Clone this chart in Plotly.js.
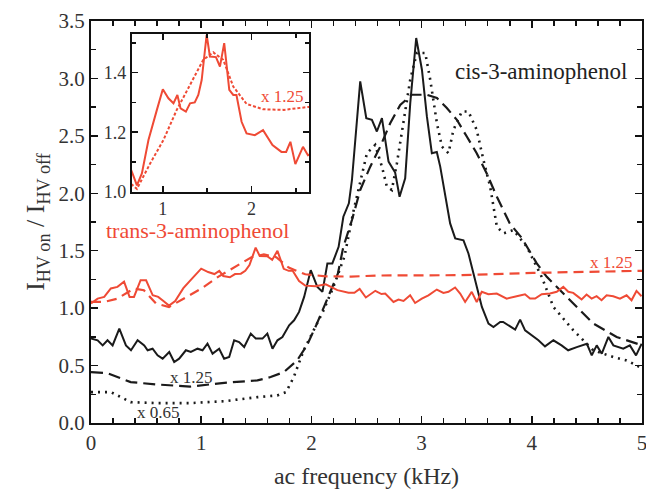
<!DOCTYPE html>
<html>
<head>
<meta charset="utf-8">
<script src="https://cdn.plot.ly/plotly-3.0.1.min.js"></script>
<style>html,body{margin:0;padding:0;background:#fff;}#chart{width:646px;height:489px;}</style>
</head>
<body>
<div id="chart"></div>
<script>
// cis-3-aminophenol, solid
const cisSolidX = [0,0.06,0.106,0.15,0.196,0.257,0.317,0.363,0.423,0.483,0.514,0.559,0.604,0.65,0.71,0.755,0.80,0.861,0.906,0.967,1.012,1.057,1.103,1.163,1.208,1.254,1.299,1.344,1.39,1.45,1.495,1.556,1.60,1.647,1.692,1.737,1.798,1.843,1.888,1.934,1.994,2.054,2.10,2.145,2.19,2.247,2.29,2.34,2.368,2.443,2.498,2.549,2.594,2.64,2.70,2.745,2.76,2.80,2.851,2.897,2.951,3.003,3.048,3.093,3.138,3.169,3.214,3.259,3.305,3.38,3.425,3.48,3.547,3.607,3.652,3.713,3.74,3.849,3.894,3.939,4.0,4.06,4.12,4.196,4.27,4.33,4.408,4.50,4.544,4.589,4.635,4.695,4.74,4.785,4.83,4.89,4.946,4.997];
const cisSolidY = [0.735,0.72,0.676,0.72,0.676,0.822,0.676,0.633,0.72,0.676,0.633,0.647,0.589,0.56,0.618,0.531,0.56,0.633,0.618,0.647,0.633,0.691,0.604,0.647,0.56,0.575,0.72,0.705,0.662,0.778,0.735,0.735,0.778,0.647,0.72,0.749,0.851,0.894,0.967,1.098,1.331,1.185,1.142,1.389,1.389,1.534,1.796,1.913,2.116,2.974,2.654,2.64,2.538,2.654,2.276,2.203,2.18,1.97,2.131,2.785,3.352,3.076,2.669,2.349,2.36,2.232,1.97,1.738,1.607,1.59,1.476,1.26,1.01,0.866,0.836,0.88,0.88,0.813,0.90,0.807,0.763,0.72,0.667,0.72,0.676,0.633,0.661,0.69,0.589,0.676,0.603,0.749,0.676,0.66,0.647,0.676,0.589,0.69];

// cis-3-aminophenol x1.25, dashed
const cisDashX = [0,0.15,0.36,0.6,0.9,1.21,1.51,1.63,1.75,1.87,1.96,2.05,2.14,2.24,2.29,2.368,2.443,2.534,2.625,2.715,2.806,2.912,3.048,3.139,3.229,3.32,3.41,3.50,3.59,3.683,3.80,3.91,4.045,4.136,4.257,4.558,4.77,5.0];
const cisDashY = [0.443,0.434,0.356,0.335,0.317,0.35,0.371,0.40,0.443,0.545,0.676,0.865,1.07,1.30,1.534,1.767,2.029,2.232,2.407,2.61,2.77,2.858,2.858,2.829,2.742,2.64,2.494,2.349,2.175,1.97,1.738,1.61,1.39,1.272,1.156,0.866,0.749,0.676];

// cis-3-aminophenol x0.65, dotted
const cisDotX = [0,0.18,0.36,0.6,0.9,1.21,1.51,1.69,1.77,1.84,1.93,2.02,2.11,2.2,2.3,2.383,2.459,2.504,2.579,2.64,2.685,2.73,2.776,2.836,2.897,2.957,3.033,3.078,3.139,3.184,3.244,3.289,3.365,3.425,3.50,3.561,3.622,3.683,3.743,3.833,3.955,4.09,4.196,4.377,4.558,4.74,4.86,4.98];
const cisDotY = [0.269,0.269,0.182,0.173,0.173,0.19,0.225,0.24,0.269,0.40,0.633,0.807,0.98,1.185,1.45,1.85,2.175,2.349,2.421,2.232,2.058,2.029,2.262,2.64,2.99,3.222,3.222,2.99,2.61,2.407,2.349,2.552,2.712,2.712,2.552,2.291,2.058,1.709,1.651,1.68,1.534,1.272,1.01,0.807,0.633,0.574,0.545,0.487];

// trans-3-aminophenol, solid
const transSolidX = [0,0.06,0.12,0.18,0.24,0.30,0.35,0.39,0.45,0.50,0.56,0.61,0.66,0.708,0.764,0.838,0.933,1.0,1.063,1.12,1.164,1.2,1.26,1.307,1.36,1.40,1.438,1.494,1.531,1.599,1.644,1.692,1.749,1.794,1.83,1.888,1.944,2.037,2.13,2.236,2.337,2.39,2.438,2.494,2.58,2.636,2.67,2.745,2.79,2.836,2.896,2.941,3.002,3.062,3.138,3.198,3.244,3.304,3.35,3.395,3.455,3.5,3.546,3.606,3.682,3.772,3.863,3.938,3.984,4.03,4.09,4.165,4.226,4.286,4.331,4.376,4.422,4.452,4.497,4.543,4.588,4.633,4.679,4.739,4.8,4.86,4.905,4.95,4.996];
const transSolidY = [1.04,1.083,1.098,1.171,1.185,1.23,1.098,1.098,1.243,1.243,1.112,1.098,1.06,1.022,1.062,1.174,1.275,1.344,1.314,1.297,1.325,1.28,1.269,1.297,1.30,1.325,1.375,1.527,1.454,1.452,1.42,1.499,1.342,1.325,1.325,1.235,1.196,1.19,1.207,1.157,1.134,1.134,1.168,1.093,1.151,1.123,1.127,1.054,1.075,1.063,1.112,1.045,1.083,1.112,1.162,1.133,1.142,1.18,1.127,1.054,1.142,1.054,1.142,1.121,1.127,1.083,1.104,1.121,1.083,1.083,1.121,1.127,1.142,1.185,1.142,1.133,1.098,1.075,1.118,1.083,1.104,1.069,1.112,1.104,1.083,1.112,1.069,1.15,1.104];

// trans-3-aminophenol x1.25, dashed
const transDashX = [0,0.12,0.24,0.39,0.48,0.59,0.708,0.857,1.007,1.157,1.307,1.456,1.569,1.681,1.794,1.944,2.13,2.36,2.615,3.35,4.01,5.0];
const transDashY = [1.054,1.054,1.083,1.171,1.156,1.04,1.01,1.095,1.174,1.275,1.359,1.443,1.468,1.443,1.353,1.295,1.277,1.275,1.284,1.287,1.307,1.325];

const xTickVals = [0,1,2,3,4,5];
const xTickText = ['0','1','2','3','4','5'];
const yTickVals = [0.0,0.5,1.0,1.5,2.0,2.5,3.0,3.5];
const yTickText = ['0.0','0.5','1.0','1.5','2.0','2.5','3.0','3.5'];
const insetXTickVals = [1,2];
const insetYTickVals = [1.0,1.2,1.4];
const insetYTickText = ['1.0','1.2','1.4'];

const RED = '#ef4a35';
const BLACK = '#1a1a1a';
const FONT = "'Liberation Serif', serif";

const traces = [
  {x: cisDotX, y: cisDotY, mode:'lines', line:{color:BLACK, width:2.6, dash:'2px,5px'}, xaxis:'x', yaxis:'y'},
  {x: cisDashX, y: cisDashY, mode:'lines', line:{color:BLACK, width:2.2, dash:'12px,6px'}, xaxis:'x', yaxis:'y'},
  {x: cisSolidX, y: cisSolidY, mode:'lines', line:{color:BLACK, width:2}, xaxis:'x', yaxis:'y'},
  {x: transDashX, y: transDashY, mode:'lines', line:{color:RED, width:2.2, dash:'10px,6px'}, xaxis:'x', yaxis:'y'},
  {x: transSolidX, y: transSolidY, mode:'lines', line:{color:RED, width:2}, xaxis:'x', yaxis:'y'},
  {x: transDashX, y: transDashY, mode:'lines', line:{color:RED, width:2, dash:'3px,2px'}, xaxis:'x2', yaxis:'y2'},
  {x: transSolidX, y: transSolidY, mode:'lines', line:{color:RED, width:2}, xaxis:'x2', yaxis:'y2'}
];

const axisCommon = {
  showline:true, linecolor:'#111', linewidth:2, mirror:'ticks',
  ticks:'inside', ticklen:7, tickwidth:1.5, tickcolor:'#111',
  showgrid:false, zeroline:false, ticklabeloverflow:'allow',
  tickfont:{family:FONT, size:21, color:'#333'}
};

const layout = {
  width:646, height:489,
  margin:{l:91, r:4, t:21, b:66},
  paper_bgcolor:'#fff', plot_bgcolor:'#fff',
  showlegend:false,
  font:{family:FONT, color:'#333'},
  xaxis: Object.assign({}, axisCommon, {
    domain:[0,1], range:[0,5], anchor:'y',
    tickvals:xTickVals, ticktext:xTickText,
    minor:{dtick:0.2, ticks:'inside', ticklen:5, tickwidth:1.5, tickcolor:'#111'},
    title:{text:'ac frequency (kHz)', font:{family:FONT, size:24, color:'#333'}, standoff:16}
  }),
  yaxis: Object.assign({}, axisCommon, {
    domain:[0,1], range:[0,3.5], anchor:'x',
    tickvals:yTickVals, ticktext:yTickText,
    minor:{dtick:0.25, ticks:'inside', ticklen:5, tickwidth:1.5, tickcolor:'#111'},
    title:{text:'I<sub>HV on</sub> / I<sub>HV off</sub>', font:{family:FONT, size:26, color:'#333'}, standoff:6}
  }),
  xaxis2: Object.assign({}, axisCommon, {
    domain:[0.074,0.396], range:[0.65,2.65], anchor:'y2',
    tickvals:insetXTickVals, ticklen:6,
    minor:{dtick:0.5, ticks:'inside', ticklen:4, tickwidth:1.5, tickcolor:'#111'},
    tickfont:{family:FONT, size:18, color:'#333'}
  }),
  yaxis2: Object.assign({}, axisCommon, {
    domain:[0.575,0.968], range:[1.0,1.53], anchor:'x2',
    tickvals:insetYTickVals, ticktext:insetYTickText, ticklen:6,
    minor:{dtick:0.1, ticks:'inside', ticklen:4, tickwidth:1.5, tickcolor:'#111'},
    tickfont:{family:FONT, size:18, color:'#333'}
  }),
  annotations:[
    {text:'cis-3-aminophenol', xref:'x', yref:'y', x:4.08, y:3.06, showarrow:false, font:{family:FONT, size:23, color:'#222'}},
    {text:'trans-3-aminophenol', xref:'x', yref:'y', x:0.97, y:1.68, showarrow:false, font:{family:FONT, size:22, color:RED}},
    {text:'x 1.25', xref:'x', yref:'y', x:4.72, y:1.40, showarrow:false, font:{family:FONT, size:17, color:RED}},
    {text:'x 1.25', xref:'x', yref:'y', x:0.91, y:0.40, showarrow:false, font:{family:FONT, size:17, color:'#333'}},
    {text:'x 0.65', xref:'x', yref:'y', x:0.61, y:0.094, showarrow:false, font:{family:FONT, size:17, color:'#333'}},
    {text:'x 1.25', xref:'x2', yref:'y2', x:2.35, y:1.32, showarrow:false, font:{family:FONT, size:17, color:RED}}
  ]
};

Plotly.newPlot('chart', traces, layout, {staticPlot:true, displayModeBar:false});
</script>
</body>
</html>
